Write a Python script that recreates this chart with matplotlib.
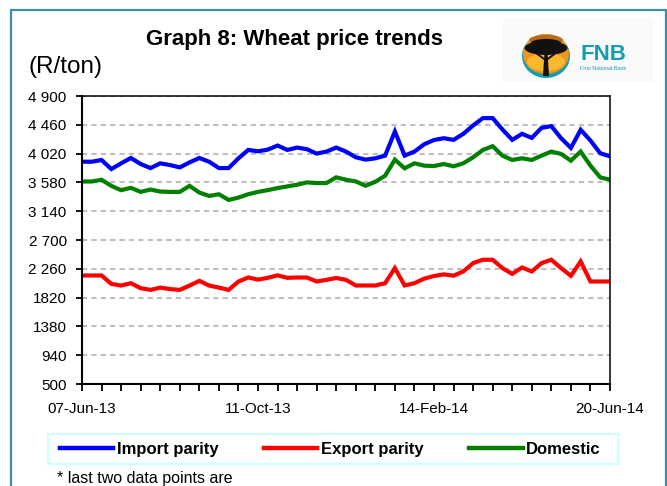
import numpy as np
import pandas as pd
import matplotlib
matplotlib.use('Agg')
import matplotlib.pyplot as plt
from matplotlib.patches import Ellipse, Polygon, Rectangle

plt.rcParams['font.family'] = ['Liberation Sans', 'DejaVu Sans']

# weekly observations, 07-Jun-13 .. 20-Jun-14
weeks = pd.date_range('2013-06-07', periods=55, freq='7D')

import_parity = [3896, 3896, 3922, 3784, 3871, 3953, 3861, 3799, 3871, 3845,
                 3809, 3886, 3953, 3896, 3799, 3799, 3948, 4076, 4055, 4081,
                 4143, 4076, 4112, 4087, 4020, 4051, 4112, 4051, 3964, 3928,
                 3948, 3989, 4358, 3989, 4051, 4163, 4228, 4255, 4230, 4322,
                 4450, 4562, 4562, 4388, 4230, 4322, 4260, 4414, 4440, 4255,
                 4107, 4383, 4220, 4025, 3979]
export_parity = [2158, 2158, 2158, 2030, 2004, 2040, 1964, 1938, 1973, 1950,
                 1938, 2004, 2076, 2004, 1973, 1938, 2066, 2127, 2095, 2122,
                 2160, 2122, 2127, 2127, 2066, 2091, 2120, 2091, 2005, 2005,
                 2005, 2040, 2270, 2005, 2040, 2110, 2150, 2175, 2155, 2220,
                 2347, 2398, 2398, 2270, 2183, 2280, 2219, 2347, 2398, 2270,
                 2153, 2373, 2066, 2066, 2066]
domestic = [3594, 3594, 3620, 3527, 3461, 3497, 3435, 3471, 3440, 3435,
            3435, 3527, 3425, 3373, 3399, 3312, 3348, 3399, 3435, 3462,
            3493, 3519, 3544, 3580, 3570, 3570, 3657, 3621, 3595, 3529,
            3590, 3682, 3928, 3795, 3872, 3836, 3830, 3861, 3826, 3872,
            3964, 4076, 4133, 3989, 3923, 3948, 3923, 3989, 4051, 4015,
            3912, 4051, 3836, 3657, 3621]

y_ticks = [500, 940, 1380, 1820, 2260, 2700, 3140, 3580, 4020, 4460, 4900]
y_tick_labels = ['500', '940', '1380', '1820', '2 260', '2 700', '3 140',
                 '3 580', '4 020', '4 460', '4 900']
x_label_dates = ['2013-06-07', '2013-10-11', '2014-02-14', '2014-06-20']

W, H = 667, 486
fig = plt.figure(figsize=(W / 100, H / 100), dpi=100)

# decoration layer in pixel coordinates (frame, logo, legend box)
deco = fig.add_axes([0, 0, 1, 1])
deco.set_xlim(0, W)
deco.set_ylim(H, 0)
deco.axis('off')
teal = '#3a8ea4'
deco.plot([11, 11, 665.5, 665.5], [H, 10.5, 10.5, H], color=teal, lw=1.6,
          solid_joinstyle='miter')

# FNB logo
fnb_teal = '#129db2'
deco.add_patch(Rectangle((503, 18), 150, 64, color='#fafafa', lw=0))
deco.add_patch(Ellipse((546, 56), 48, 44, color=fnb_teal, lw=0))
deco.add_patch(Ellipse((546, 54), 46, 40, color='#ee9520', lw=0))
deco.add_patch(Ellipse((546, 62), 38, 18, color='#fbb82c', lw=0))
deco.add_patch(Ellipse((546, 40), 34, 10, color='#b8691a', lw=0))
deco.add_patch(Ellipse((546, 48), 43, 14, color='#111111', lw=0))
deco.add_patch(Ellipse((546, 43), 30, 8, color='#111111', lw=0))
deco.add_patch(Polygon([[544.5, 52], [547.5, 52], [549, 76], [543, 76]],
                       closed=True, color='#111111', lw=0))
deco.plot([546.5, 557], [60, 52], color='#111111', lw=1.4)
deco.plot([545.5, 536], [60, 53], color='#111111', lw=1.4)
deco.text(580, 55, 'FNB', color=fnb_teal, fontsize=16, fontweight='bold',
          va='center', ha='left')
deco.text(580, 68, 'First National Bank', color=fnb_teal, fontsize=3.9,
          va='center', ha='left')

# legend box
deco.add_patch(Rectangle((48, 434), 570, 30, facecolor='white',
                         edgecolor='#ccffff', lw=1.5))

# titles
fig.text(294 / W, 1 - 40 / H, 'Graph 8: Wheat price trends', fontsize=16,
         fontweight='bold', ha='center', va='center')
fig.text(28 / W, 1 - 67 / H, '(R/ton)', fontsize=17.5, ha='left', va='center')

# main chart
ax = fig.add_axes([82 / W, 1 - 384 / H, 528 / W, 288 / H])
ax.plot(weeks, import_parity, color='#0000ff', lw=3, label='Import parity',
        solid_joinstyle='miter')
ax.plot(weeks, export_parity, color='#ff0000', lw=3, label='Export parity',
        solid_joinstyle='miter')
ax.plot(weeks, domestic, color='#008000', lw=3, label='Domestic',
        solid_joinstyle='miter')

ax.set_xlim(weeks[0], weeks[-1])
ax.set_ylim(500, 4900)
ax.set_yticks(y_ticks)
ax.set_yticklabels(y_tick_labels)
ax.yaxis.grid(True, color='#bfbfbf', linestyle=(0, (2.5, 2)), lw=1.5)
ax.set_axisbelow(True)

tick_dates = weeks[::2]
label_set = set(pd.to_datetime(x_label_dates))
ax.set_xticks(tick_dates)
ax.set_xticklabels([d.strftime('%d-%b-%y') if d in label_set else ''
                    for d in tick_dates])

for side in ['left', 'bottom']:
    ax.spines[side].set_linewidth(1.5)
for side in ['top', 'right']:
    ax.spines[side].set_linewidth(1.1)
ax.tick_params(axis='y', direction='out', length=4, width=1.3, pad=7,
               labelsize=11)
ax.tick_params(axis='x', direction='out', length=5, width=1.3, pad=8,
               labelsize=11)

# legend (frame drawn separately above)
leg = fig.legend(loc='center left', bbox_to_anchor=(60 / W, 1 - 449 / H),
                 ncol=3, prop={'weight': 'bold', 'size': 12},
                 handlelength=3.2, handletextpad=0.2, columnspacing=2.75,
                 borderpad=0, borderaxespad=0, frameon=False)
for line in leg.get_lines():
    line.set_linewidth(3.2)

fig.text(57 / W, 1 - 478 / H, '* last two data points are', fontsize=11.5,
         ha='left', va='center')

fig.savefig('out.png', dpi=100)
